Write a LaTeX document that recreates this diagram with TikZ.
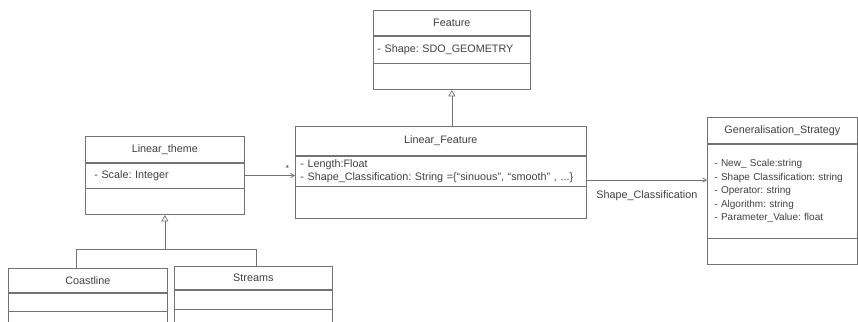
\documentclass[tikz,border=0pt]{standalone}
\usepackage{fontspec}
\setmainfont{Liberation Sans}
\usepackage{tikz}
\usetikzlibrary{arrows}
\usetikzlibrary{positioning}
\definecolor{linegray}{gray}{0.45}
\definecolor{textgray}{gray}{0.25}
\frenchspacing

\begin{document}
\begin{tikzpicture}[x=1pt,y=-1pt,>=angle 60,
  title part/.style={draw=linegray,line width=0.7pt,anchor=north west,inner sep=0pt,text=textgray,font=\fontsize{10.8}{13}\selectfont},
  attr part/.style={draw=linegray,line width=0.7pt,inner ysep=0pt,align=left,text=textgray,font=\fontsize{10.8}{13}\selectfont},
  empty part/.style={draw=linegray,line width=0.7pt,inner sep=0pt},
  conn/.style={draw=linegray,line width=0.7pt}]

  \useasboundingbox (0,0) rectangle (858,321);
  \clip (0,0) rectangle (858,321);

  % Feature
  \node[title part,minimum width=157pt,minimum height=25pt] (feature) at (373,10) {Feature};
  \node[attr part,minimum width=157pt,minimum height=27pt,inner xsep=4pt,text width=149pt,below=0pt of feature] (featureattr) {- Shape: SDO\_GEOMETRY};
  \node[empty part,minimum width=157pt,minimum height=26pt,below=0pt of featureattr] (featureops) {};

  % Linear_Feature
  \node[title part,minimum width=291pt,minimum height=29pt] (lfeature) at (295,126) {Linear\_Feature};
  \node[attr part,minimum width=291pt,minimum height=30pt,inner xsep=5pt,text width=281pt,below=0pt of lfeature] (lfeatureattr) {- Length:Float\\- Shape\_Classification: String =\{“sinuous”, “smooth” , ...\}};
  \node[empty part,minimum width=291pt,minimum height=32pt,below=0pt of lfeatureattr] (lfeatureops) {};

  % Linear_theme
  \node[title part,minimum width=159pt,minimum height=26pt] (theme) at (85,136) {Linear\_theme};
  \node[attr part,minimum width=159pt,minimum height=25pt,inner xsep=9pt,text width=141pt,below=0pt of theme] (themeattr) {- Scale: Integer};
  \node[empty part,minimum width=159pt,minimum height=26pt,below=0pt of themeattr] (themeops) {};

  % Coastline, Streams
  \node[title part,minimum width=159pt,minimum height=24pt] (coast) at (8,268) {Coastline};
  \node[empty part,minimum width=159pt,minimum height=18pt,below=0pt of coast] (coastattr) {};
  \node[empty part,minimum width=159pt,minimum height=30pt,below=0pt of coastattr] (coastops) {};

  \node[title part,minimum width=158pt,minimum height=23pt] (streams) at (174,266) {Streams};
  \node[empty part,minimum width=158pt,minimum height=19pt,below=0pt of streams] (streamsattr) {};
  \node[empty part,minimum width=158pt,minimum height=30pt,below=0pt of streamsattr] (streamsops) {};

  % Generalisation_Strategy
  \node[title part,minimum width=150pt,minimum height=26pt] (gen) at (707,117) {Generalisation\_Strategy};
  \node[attr part,minimum width=150pt,minimum height=94pt,inner xsep=7pt,text width=136pt,font=\fontsize{10}{13.5}\selectfont,below=0pt of gen] (genattr) {- New\_ Scale:string\\- Shape Classification: string\\- Operator: string\\- Algorithm: string\\- Parameter\_Value: float};
  \node[empty part,minimum width=150pt,minimum height=26pt,below=0pt of genattr] (genops) {};

  % connectors
  \draw[conn,-open triangle 60] (lfeature.north -| featureops.south) -- (featureops.south);
  \draw[conn,->] (themeattr.east) -- (themeattr.east -| lfeatureattr.west)
    node[pos=0.85,above,text=textgray,font=\small] {*};
  \draw[conn,->] ([yshift=-9pt]lfeatureattr.east) -- ([yshift=-9pt]lfeatureattr.east -| genattr.west)
    node[midway,below=7pt,text=textgray,font=\fontsize{10.8}{13}\selectfont] {Shape\_Classification};

  \coordinate (join) at ([yshift=-34pt]themeops.south);
  \draw[conn] ([xshift=-12pt]coast.north) |- (join) -| ([xshift=3pt]streams.north);
  \draw[conn,-open triangle 60] (join) -- (themeops.south);
\end{tikzpicture}
\end{document}
